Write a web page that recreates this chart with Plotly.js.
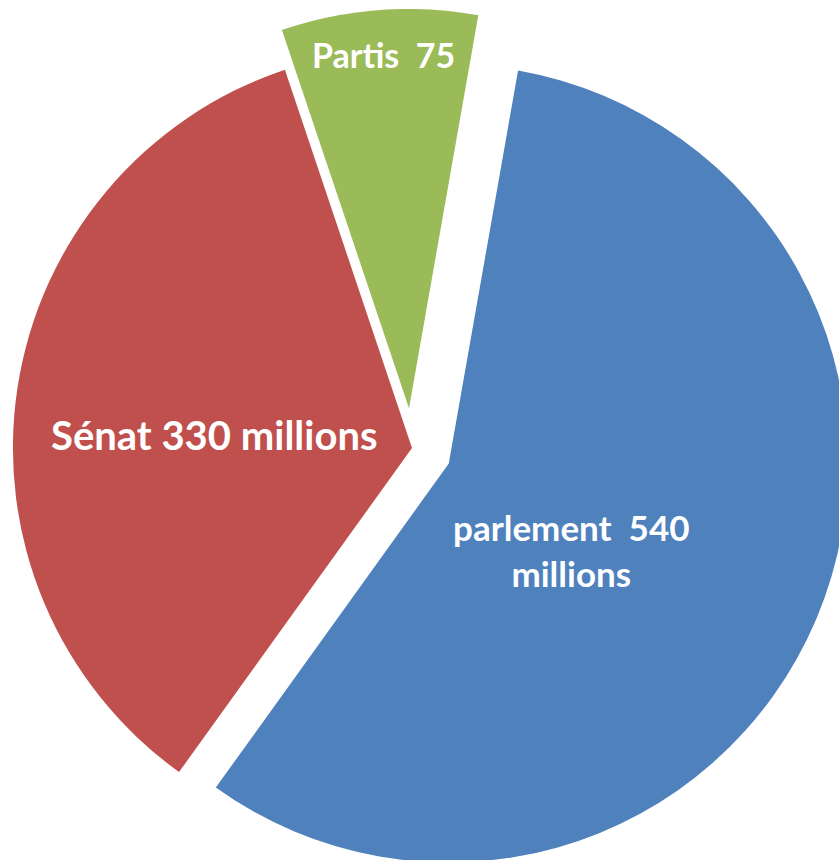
<!DOCTYPE html>
<html>
<head>
<meta charset="utf-8">
<script src="https://cdn.plot.ly/plotly-3.0.1.min.js"></script>
<style>
html, body { margin: 0; padding: 0; width: 839px; height: 860px; overflow: hidden; background: #fff; }
#chart { position: absolute; left: -27px; top: 9px; width: 878px; height: 878px; }
</style>
</head>
<body>
<div id="chart"></div>
<script>
// Data
const labels = ["parlement", "Sénat", "Partis"];
const values = [540, 330, 75];
const valueTexts = ["540\u00a0millions", "330 millions", "75"];
const colors = ["#4F81BD", "#C0504D", "#9BBB59"];
const pulls = [0.1, 0, 0.1];

const trace = {
  type: "pie",
  labels: labels,
  values: values,
  sort: false,
  direction: "clockwise",
  rotation: 10,
  pull: pulls,
  marker: { colors: colors, line: { width: 0 } },
  textinfo: "none",
  hoverinfo: "label+value",
  showlegend: false
};

const font = "Lato, 'Open Sans', sans-serif";
const annotations = [
  { text: "<b>" + labels[0] + "\u00a0 " + values[0] + "<br>millions</b>", x: 0.682, y: 0.384, size: 35 },
  { text: "<b>" + labels[1] + " " + values[1] + " millions</b>", x: 0.2745, y: 0.515, size: 40 },
  { text: "<b>" + labels[2] + "\u00a0 " + values[2] + "</b>", x: 0.467, y: 0.948, size: 34 }
].map(a => ({
  text: a.text, x: a.x, y: a.y, xref: "paper", yref: "paper",
  xanchor: "center", yanchor: "middle", showarrow: false,
  font: { family: font, size: a.size, color: "#ffffff" }
}));

const layout = {
  width: 878, height: 878,
  margin: { l: 0, r: 0, t: 0, b: 0 },
  paper_bgcolor: "rgba(0,0,0,0)",
  plot_bgcolor: "rgba(0,0,0,0)",
  showlegend: false,
  annotations: annotations
};

Plotly.newPlot("chart", [trace], layout, { displayModeBar: false, staticPlot: true });
</script>
</body>
</html>
